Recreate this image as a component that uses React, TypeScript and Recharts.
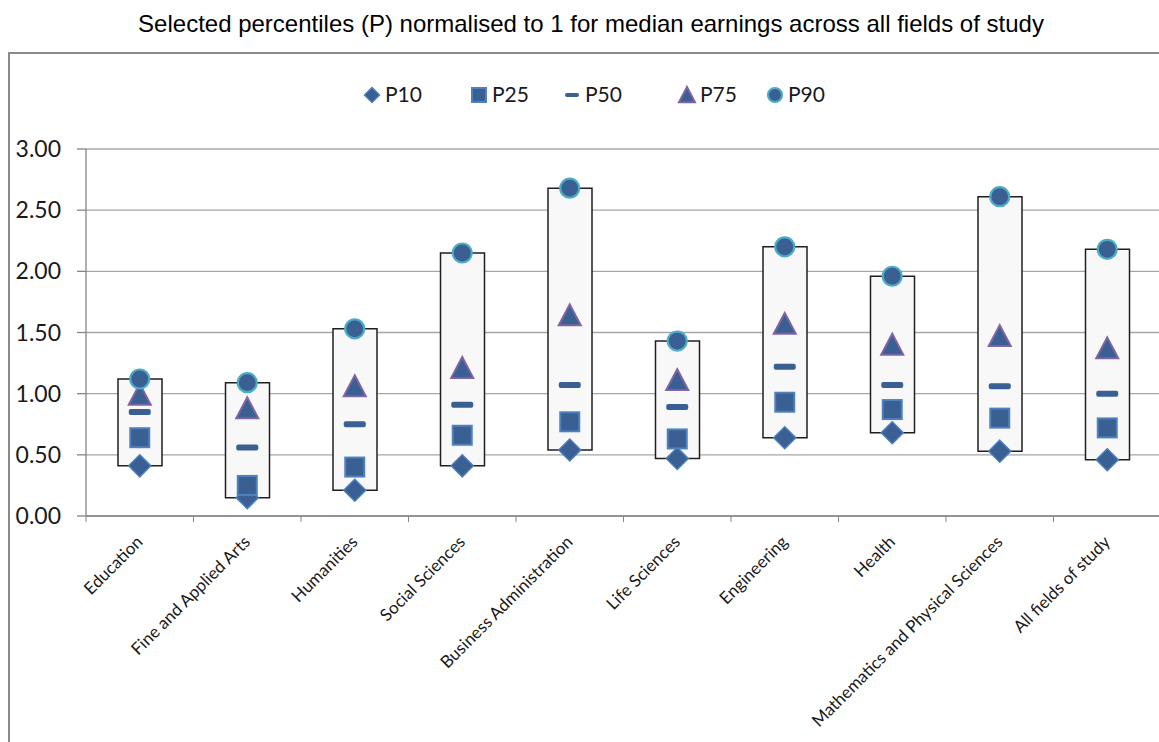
import React from 'react';
import { ComposedChart, Bar, Line, XAxis, YAxis, CartesianGrid } from 'recharts';

const categories = [
  'Education',
  'Fine and Applied Arts',
  'Humanities',
  'Social Sciences',
  'Business Administration',
  'Life Sciences',
  'Engineering',
  'Health',
  'Mathematics and Physical Sciences',
  'All fields of study',
];
const p10 = [0.41, 0.15, 0.21, 0.41, 0.54, 0.47, 0.64, 0.68, 0.53, 0.46];
const p25 = [0.64, 0.25, 0.40, 0.66, 0.77, 0.63, 0.93, 0.87, 0.80, 0.72];
const p50 = [0.85, 0.56, 0.75, 0.91, 1.07, 0.89, 1.22, 1.07, 1.06, 1.00];
const p75 = [0.99, 0.88, 1.06, 1.21, 1.64, 1.11, 1.57, 1.40, 1.47, 1.37];
const p90 = [1.12, 1.09, 1.53, 2.15, 2.68, 1.43, 2.20, 1.96, 2.61, 2.18];
const yTicks = [0, 0.5, 1, 1.5, 2, 2.5, 3];

const FONT = 'Lato, "Open Sans", sans-serif';
const DARK = '#3a5f93';

const data = categories.map((name, i) => ({
  name,
  range: [p10[i], p90[i]],
  p10: p10[i],
  p25: p25[i],
  p50: p50[i],
  p75: p75[i],
  p90: p90[i],
}));

// marker shapes, shared by chart and legend
const Diamond = ({ cx, cy, s = 11 }: any) => (
  <path d={`M${cx},${cy - s}L${cx + s},${cy}L${cx},${cy + s}L${cx - s},${cy}Z`} fill={DARK} stroke="#4a7ebb" strokeWidth={1.5} />
);
const Square = ({ cx, cy, s = 9.5 }: any) => (
  <rect x={cx - s} y={cy - s} width={s * 2} height={s * 2} fill={DARK} stroke="#4f81bd" strokeWidth={2} />
);
const Dash = ({ cx, cy, w = 22, h = 6 }: any) => (
  <rect x={cx - w / 2} y={cy - h / 2} width={w} height={h} rx={2} fill={DARK} />
);
const Triangle = ({ cx, cy, s = 11 }: any) => (
  <path d={`M${cx},${cy - s}L${cx + s},${cy + s * 0.9}L${cx - s},${cy + s * 0.9}Z`} fill={DARK} stroke="#8064a2" strokeWidth={2} />
);
const Circle = ({ cx, cy, r = 9.5 }: any) => (
  <circle cx={cx} cy={cy} r={r} fill={DARK} stroke="#4bacc6" strokeWidth={2.2} />
);

const dot = (Shape: any) => (props: any) =>
  props.cx == null ? <g key={props.index} /> : <Shape key={props.index} cx={props.cx} cy={props.cy} />;

const XTick = (props: any) => {
  const { x, y, payload, index } = props;
  const half = payload && payload.offset ? payload.offset : 53.75;
  const ay = y - 6;
  const tx = x + 4;
  const ty = y + 21;
  return (
    <g>
      <line x1={x - half} y1={ay} x2={x - half} y2={ay + 6} stroke="#868686" />
      {index === categories.length - 1 && <line x1={x + half} y1={ay} x2={x + half} y2={ay + 6} stroke="#868686" />}
      <text x={tx} y={ty} transform={`rotate(-45, ${tx}, ${ty})`} textAnchor="end" fontSize={17} fontFamily={FONT} fill="#1a1a1a">
        {payload.value}
      </text>
    </g>
  );
};

const legendItems = [
  { label: 'P10', Shape: Diamond, x: 372 },
  { label: 'P25', Shape: Square, x: 479 },
  { label: 'P50', Shape: Dash, x: 572 },
  { label: 'P75', Shape: Triangle, x: 687 },
  { label: 'P90', Shape: Circle, x: 775 },
];

const Legend = () => (
  <svg width={1159} height={40} style={{ position: 'absolute', left: 0, top: 75 }}>
    {legendItems.map(({ label, Shape, x }) => (
      <g key={label}>
        {label === 'P10' && <Shape cx={x} cy={20} s={7.5} />}
        {label === 'P25' && <Shape cx={x} cy={20} s={7} />}
        {label === 'P50' && <Shape cx={x} cy={20} w={14} h={4} />}
        {label === 'P75' && <Shape cx={x} cy={20} s={8} />}
        {label === 'P90' && <Shape cx={x} cy={20} r={7} />}
        <text x={x + 13} y={27} fontSize={21} fontFamily={FONT} fill="#1a1a1a">{label}</text>
      </g>
    ))}
  </svg>
);

export default function App() {
  return (
    <div style={{ position: 'absolute', left: 0, top: 0, width: 1159, height: 742, overflow: 'hidden', background: '#fff' }}>
      <svg width={1159} height={50} style={{ position: 'absolute', left: 0, top: 0 }}>
        <text x={591} y={32} textAnchor="middle" fontSize={24} fontFamily='"Liberation Sans", Arial, sans-serif' fill="#000">
          Selected percentiles (P) normalised to 1 for median earnings across all fields of study
        </text>
      </svg>
      <div style={{ position: 'absolute', left: 8, top: 52, width: 1200, height: 740, borderLeft: '2px solid #8a8a8a', borderTop: '2px solid #8a8a8a' }} />
      <Legend />
      <div style={{ position: 'absolute', left: 0, top: 0 }}>
        <ComposedChart width={1165} height={742} data={data} margin={{ top: 149, right: 4, bottom: 0, left: 0 }}>
          <CartesianGrid vertical={false} stroke="#a6a6a6" strokeWidth={1.3} />
          <XAxis
            dataKey="name"
            interval={0}
            height={226}
            axisLine={{ stroke: '#868686', strokeWidth: 1.3 }}
            tickLine={false}
            tickSize={6}
            tickMargin={0}
            tick={<XTick />}
          />
          <YAxis
            domain={[0, 3]}
            ticks={yTicks}
            width={86}
            tickFormatter={(v: number) => v.toFixed(2)}
            axisLine={{ stroke: '#868686', strokeWidth: 1.3 }}
            tickLine={{ stroke: '#868686', strokeWidth: 1.3 }}
            tickSize={9}
            tickMargin={16}
            tick={{ fontSize: 23, fontFamily: FONT, fill: '#1a1a1a' }}
          />
          <Bar dataKey="range" barSize={44} fill="#f8f8f8" stroke="#1f1f1f" strokeWidth={1.5} isAnimationActive={false} />
          <Line dataKey="p10" stroke="none" dot={dot(Diamond)} activeDot={false} isAnimationActive={false} />
          <Line dataKey="p25" stroke="none" dot={dot(Square)} activeDot={false} isAnimationActive={false} />
          <Line dataKey="p50" stroke="none" dot={dot(Dash)} activeDot={false} isAnimationActive={false} />
          <Line dataKey="p75" stroke="none" dot={dot(Triangle)} activeDot={false} isAnimationActive={false} />
          <Line dataKey="p90" stroke="none" dot={dot(Circle)} activeDot={false} isAnimationActive={false} />
        </ComposedChart>
      </div>
    </div>
  );
}
